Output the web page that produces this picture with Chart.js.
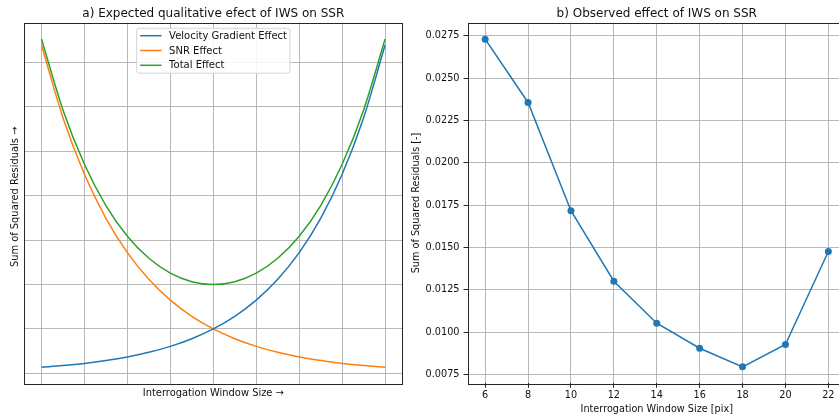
<!DOCTYPE html>
<html>
<head>
<meta charset="utf-8">
<script src="https://cdn.jsdelivr.net/npm/chart.js@4/dist/chart.umd.min.js"></script>
<style>
  html, body { margin: 0; padding: 0; background: #ffffff; }
  body { width: 839px; height: 416px; overflow: hidden; position: relative; }
  canvas { position: absolute; top: 0; }
  #left { left: 0px; }
  #right { left: 400px; }
</style>
</head>
<body>
<canvas id="left" width="420" height="416"></canvas>
<canvas id="right" width="460" height="416"></canvas>
<script>
// ---- panel a: expected qualitative behaviour ----
const iwsAxis = [-2, -1.75, -1.5, -1.25, -1, -0.75, -0.5, -0.25, 0, 0.25, 0.5, 0.75, 1, 1.25, 1.5, 1.75, 2];
const velocityGradientEffect = [0.135, 0.174, 0.223, 0.287, 0.368, 0.472, 0.607, 0.779, 1.000, 1.284, 1.649, 2.117, 2.718, 3.490, 4.482, 5.755, 7.389];
const snrEffect = [7.389, 5.755, 4.482, 3.490, 2.718, 2.117, 1.649, 1.284, 1.000, 0.779, 0.607, 0.472, 0.368, 0.287, 0.223, 0.174, 0.135];
const totalEffect = [7.524, 5.929, 4.705, 3.777, 3.086, 2.589, 2.256, 2.063, 2.000, 2.063, 2.256, 2.589, 3.086, 3.777, 4.705, 5.929, 7.524];
const seriesLabels = ['Velocity Gradient Effect', 'SNR Effect', 'Total Effect'];

// ---- panel b: observed sum of squared residuals ----
const windowSizes = [6, 8, 10, 12, 14, 16, 18, 20, 22];
const observedSSR = [0.0273, 0.02356, 0.01717, 0.01301, 0.01053, 0.00905, 0.00795, 0.00927, 0.01476];

const FONT = 'DejaVu Sans';
const TEXT = '#111111';
const GRID = '#b0b0b0';
const BLUE = '#1f77b4', ORANGE = '#ff7f0e', GREEN = '#2ca02c';

Chart.defaults.font.family = FONT;
Chart.defaults.color = TEXT;

const toPoints = (xs, ys) => xs.map((x, i) => ({ x: x, y: ys[i] }));

// full box around the plotting area
const framePlugin = {
  id: 'frame',
  afterDatasetsDraw(chart) {
    const { ctx, chartArea: a } = chart;
    ctx.save();
    ctx.strokeStyle = '#262626';
    ctx.lineWidth = 1;
    ctx.strokeRect(Math.round(a.left) + 0.5, Math.round(a.top) + 0.5,
                   Math.round(a.right - a.left), Math.round(a.bottom - a.top));
    ctx.restore();
  }
};

// legend boxed inside the plot, upper centre
const innerLegend = {
  id: 'innerLegend',
  afterDraw(chart) {
    const { ctx, chartArea: a } = chart;
    const sets = chart.data.datasets;
    ctx.save();
    ctx.font = '10px "' + FONT + '"';
    const textW = Math.max(...sets.map(d => ctx.measureText(d.label).width));
    const padL = 3.5, handle = 21.5, gap = 7.5, padR = 3, rowH = 14.8, padT = 7.4;
    const w = padL + handle + gap + textW + padR;
    const h = padT * 2 + rowH * (sets.length - 1) + 0.5;
    const cx = (a.left + a.right) / 2;
    const x0 = cx - w / 2, y0 = a.top + 5.6;
    ctx.beginPath();
    ctx.roundRect(x0, y0, w, h, 2.5);
    ctx.fillStyle = 'rgba(255,255,255,0.85)';
    ctx.fill();
    ctx.strokeStyle = '#d6d6d6';
    ctx.lineWidth = 1;
    ctx.stroke();
    sets.forEach((d, i) => {
      const y = y0 + padT + i * rowH;
      ctx.beginPath();
      ctx.moveTo(x0 + padL, y);
      ctx.lineTo(x0 + padL + handle, y);
      ctx.strokeStyle = d.borderColor;
      ctx.lineWidth = 1.5;
      ctx.stroke();
      ctx.fillStyle = TEXT;
      ctx.textBaseline = 'middle';
      ctx.textAlign = 'left';
      ctx.fillText(d.label, x0 + padL + handle + gap, y + 0.5);
    });
    ctx.restore();
  }
};

const lineStyle = (color) => ({
  borderColor: color,
  backgroundColor: color,
  borderWidth: 1.5,
  pointRadius: 0,
  fill: false,
  cubicInterpolationMode: 'monotone'
});

new Chart(document.getElementById('left'), {
  type: 'line',
  data: {
    datasets: [
      Object.assign({ label: seriesLabels[0], data: toPoints(iwsAxis, velocityGradientEffect) }, lineStyle(BLUE)),
      Object.assign({ label: seriesLabels[1], data: toPoints(iwsAxis, snrEffect) }, lineStyle(ORANGE)),
      Object.assign({ label: seriesLabels[2], data: toPoints(iwsAxis, totalEffect) }, lineStyle(GREEN))
    ]
  },
  options: {
    responsive: false,
    animation: false,
    devicePixelRatio: 1,
    layout: { padding: { left: 0, right: 17.7, top: 0, bottom: 0 } },
    plugins: {
      legend: { display: false },
      tooltip: { enabled: false },
      title: {
        display: true,
        text: 'a) Expected qualitative efect of IWS on SSR',
        fullSize: false,
        font: { size: 12, weight: 'normal' },
        color: TEXT,
        padding: { top: 7, bottom: 1.3 }
      }
    },
    scales: {
      x: {
        type: 'linear',
        min: -2.2, max: 2.2,
        ticks: { display: false, stepSize: 0.5, includeBounds: false },
        grid: { color: GRID, lineWidth: 0.9, drawTicks: false },
        border: { display: false },
        title: {
          display: true, text: 'Interrogation Window Size →',
          font: { size: 9.9 }, color: TEXT, padding: { top: 0, bottom: 17 }
        },
        afterFit(scale) { scale.height = 32.3; }
      },
      y: {
        type: 'linear',
        min: -0.234, max: 7.893,
        ticks: { display: false, stepSize: 1, includeBounds: false },
        grid: { color: GRID, lineWidth: 0.9, drawTicks: false },
        border: { display: false },
        title: {
          display: true, text: '    Sum of Squared Residuals →',
          font: { size: 9.9 }, color: TEXT, padding: { top: 9.2, bottom: 0 }
        },
        afterFit(scale) { scale.width = 24.3; }
      }
    }
  },
  plugins: [framePlugin, innerLegend]
});

new Chart(document.getElementById('right'), {
  type: 'line',
  data: {
    datasets: [{
      label: 'SSR',
      data: toPoints(windowSizes, observedSSR),
      borderColor: BLUE,
      backgroundColor: BLUE,
      borderWidth: 1.5,
      pointRadius: 3.5,
      pointBorderWidth: 0,
      pointBackgroundColor: BLUE,
      fill: false,
      tension: 0
    }]
  },
  options: {
    responsive: false,
    animation: false,
    devicePixelRatio: 1,
    layout: { padding: { left: 0, right: 14.5, top: 0, bottom: 0 } },
    plugins: {
      legend: { display: false },
      tooltip: { enabled: false },
      title: {
        display: true,
        text: 'b) Observed effect of IWS on SSR',
        fullSize: false,
        font: { size: 12, weight: 'normal' },
        color: TEXT,
        padding: { top: 7, bottom: 1.3 }
      }
    },
    scales: {
      x: {
        type: 'linear',
        min: 5.2, max: 22.8,
        ticks: { stepSize: 2, includeBounds: false, font: { size: 9.7 }, color: TEXT, padding: 1.6, maxRotation: 0 },
        grid: { color: GRID, lineWidth: 0.9, tickLength: 4.5, tickColor: '#262626', tickWidth: 1 },
        border: { display: false },
        title: {
          display: true, text: 'Interrogation Window Size [pix]',
          font: { size: 9.7 }, color: TEXT, padding: { top: 0, bottom: 1 }
        },
        afterFit(scale) { scale.height = 32.7; }
      },
      y: {
        type: 'linear',
        min: 0.00698, max: 0.02827,
        ticks: {
          stepSize: 0.0025, includeBounds: false, font: { size: 9.7 }, color: TEXT, padding: 4,
          callback: (v) => v.toFixed(4)
        },
        grid: { color: GRID, lineWidth: 0.9, tickLength: 4.5, tickColor: '#262626', tickWidth: 1 },
        border: { display: false },
        title: {
          display: true, text: 'Sum of Squared Residuals [-]',
          font: { size: 9.7 }, color: TEXT, padding: { top: 10.9, bottom: 0 }
        },
        afterFit(scale) { scale.width = 68; }
      }
    }
  },
  plugins: [framePlugin]
});
</script>
</body>
</html>
